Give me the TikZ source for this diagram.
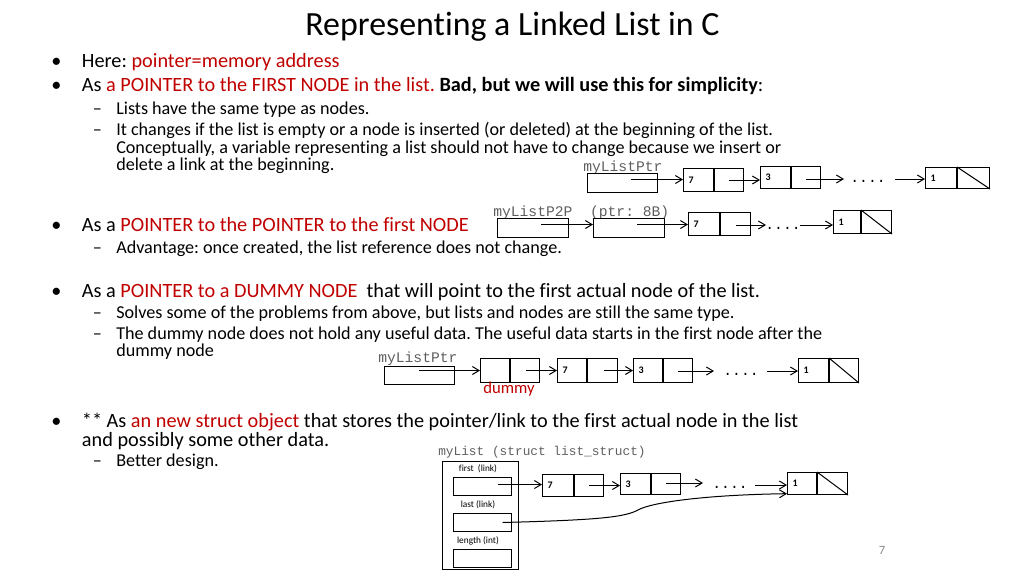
\documentclass[tikz,border=0pt]{standalone}
\usepackage{fontspec}
\setmainfont{Carlito}[Ligatures={NoCommon}]
\newfontfamily\monofont{Liberation Mono}
\usetikzlibrary{arrows.meta}
\definecolor{myred}{RGB}{192,0,0}
\definecolor{labgray}{RGB}{95,95,95}
\definecolor{pgnum}{RGB}{137,137,137}
\newcommand{\LLnode}[7]{%
  \node[box={#4}{#6}] (#1a) at (#2,#3) {};
  \node[box={#5}{#6}] (#1b) at (#1a.north east) {};
  \node[numtxt] (#1t) at ([xshift=4pt]#1a.west) {#7};
}
\newcommand{\Bline}[3]{%
  \node[btxt] (#1d) at (51,#2) {\textbullet};
  \node[btxt] (#1) at (81.7,#2) {#3};
}
\newcommand{\Sline}[3]{%
  \node[stxt] (#1d) at (92.7,#2) {–};
  \node[stxt] (#1) at (116,#2) {#3};
}
\begin{document}
\frenchspacing
\begin{tikzpicture}[x=0.75pt,y=-0.75pt,
  cell/.style={draw, line width=0.75pt, inner sep=0pt, anchor=north west},
  box/.style 2 args={cell, minimum width=#1*0.75pt, minimum height=#2*0.75pt},
  ptr/.style={-{Straight Barb[length=5pt,width=6pt]}, line width=0.75pt},
  btxt/.style={anchor=base west, inner sep=0pt, font=\fontsize{15.2}{18}\selectfont},
  stxt/.style={anchor=base west, inner sep=0pt, font=\fontsize{13.6}{16}\selectfont},
  numtxt/.style={anchor=west, inner sep=0pt, font=\fontsize{7.5}{9}\selectfont\bfseries},
  mlab/.style={anchor=base west, inner sep=0pt, text=labgray, font=\monofont\fontsize{11}{13}\selectfont},
  dots/.style={inner sep=0pt, font=\monofont\fontsize{11}{13}\selectfont},
  small/.style={inner sep=0pt, font=\fontsize{7}{8}\selectfont}]
\useasboundingbox (0,0) rectangle (1024,576);

% title
\node[anchor=base, inner sep=0pt, font=\fontsize{25.4}{30}\selectfont] (title) at (512.5,35.5) {Representing a Linked List in C};

% text
\Bline{b1}{67.7}{Here: \textcolor{myred}{pointer=memory address}}
\Bline{b2}{91.5}{As \textcolor{myred}{a POINTER to the FIRST NODE in the list.} \textbf{Bad, but we will use this for simplicity}:}
\Sline{s1}{114.3}{Lists have the same type as nodes.}
\Sline{s2}{135.3}{It changes if the list is empty or a node is inserted (or deleted) at the beginning of the list.}
\node[stxt] (s2b) at (116,153.3) {Conceptually, a variable representing a list should not have to change because we insert or};
\node[stxt] (s2c) at (116,170.5) {delete a link at the beginning.};
\Bline{b3}{231.5}{As a \textcolor{myred}{POINTER to the POINTER to the first NODE}}
\Sline{s3}{253.5}{Advantage: once created, the list reference does not change.}
\Bline{b4}{297.5}{As a \textcolor{myred}{POINTER to a DUMMY NODE}\ \ that will point to the first actual node of the list.}
\Sline{s4}{318.3}{Solves some of the problems from above, but lists and nodes are still the same type.}
\Sline{s5}{339.3}{The dummy node does not hold any useful data. The useful data starts in the first node after the}
\node[stxt] (s5b) at (116,356) {dummy node};
\Bline{b5}{427.5}{** As \textcolor{myred}{an new struct object} that stores the pointer/link to the first actual node in the list}
\node[btxt] (b5b) at (81.7,446.5) {and possibly some other data.};
\Sline{s6}{466.5}{Better design.}

% page number
\node[inner sep=0pt, text=pgnum, font=\fontsize{9.5}{11}\selectfont] (pg) at (882,550) {7};

% ---------- diagram 1
\node[mlab] (lab1) at (583,171) {myListPtr};
\node[box={70}{19}] (p1) at (587,173) {};
\LLnode{na}{683}{168}{30}{29}{23}{7}
\LLnode{nb}{760}{166}{30}{29}{22}{3}
\LLnode{nc}{925}{167}{31}{32}{21}{1}
\draw[line width=0.75pt] (ncb.north west) -- (ncb.south east);
\draw[ptr] ([shift={(8,-3.5)}]p1.center) coordinate (t1) -- (t1 -| naa.west);
\draw[ptr] (nab.center) coordinate (t2) -- (t2 -| nba.west);
\coordinate (e1) at (844,179);
\coordinate (f1) at (895,179);
\draw[ptr] (nbb.center |- e1) -- (e1);
\node[dots, anchor=base] (d1) at (868,182) {....};
\draw[ptr] (f1) -- (f1 -| nca.west);

% ---------- diagram 2
\node[mlab] (lab2) at (493,216.7) {myListP2P\ \ (ptr: 8B)};
\node[box={71}{19}] (q1) at (497,218) {};
\node[box={71}{19}] (q2) at (593,218) {};
\LLnode{ma}{688}{212}{31}{30}{23}{7}
\LLnode{mb}{833}{210}{27}{30}{23}{1}
\draw[line width=0.75pt] (mbb.north west) -- (mbb.south east);
\draw[ptr] ([shift={(8,-3.5)}]q1.center) coordinate (t3) -- (t3 -| q2.west);
\draw[ptr] ([shift={(8,-3.5)}]q2.center) coordinate (t4) -- (t4 -| maa.west);
\coordinate (e2) at (766,225);
\coordinate (f2) at (800,225);
\draw[ptr] (mab.center |- e2) -- (e2);
\node[dots, anchor=base] (d2) at (783,229) {....};
\draw[ptr] (f2) -- (f2 -| mba.west);

% ---------- diagram 3
\node[mlab] (lab3) at (378,362) {myListPtr};
\node[box={70}{18}] (r1) at (384,366) {};
\node[box={29}{24}] (dma) at (480,358) {};
\node[box={29}{24}] (dmb) at (dma.north east) {};
\node[inner sep=0pt, anchor=base, text=myred, font=\fontsize{12.5}{14}\selectfont] (dml) at (509,393) {dummy};
\LLnode{ka}{557}{358}{29}{30}{24}{7}
\LLnode{kb}{633}{358}{29}{29}{24}{3}
\LLnode{kc}{798}{358}{30}{29}{24}{1}
\draw[line width=0.75pt] (kcb.north west) -- (kcb.south east);
\draw[ptr] ([xshift=-0.5pt]r1.center |- dma.west) -- (dma.west);
\draw[ptr] ([xshift=1pt]dmb.center) coordinate (t5) -- (t5 -| kaa.west);
\draw[ptr] ([xshift=1pt]kab.center) coordinate (t6) -- (t6 -| kba.west);
\coordinate (e3) at (714,371);
\coordinate (f3) at (767,371);
\draw[ptr] (kbb.center |- e3) -- (e3);
\node[dots, anchor=base] (d3) at (741,375) {....};
\draw[ptr] (f3) -- (f3 -| kca.west);

% ---------- diagram 4
\node[mlab, font=\monofont\fontsize{9.6}{11}\selectfont] (lab4) at (438,455) {myList (struct list\_struct)};
\node[box={76}{108}] (st) at (442,461) {};
\node[small] (fl) at (478,469) {first\ \ (link)};
\node[box={58}{18}] (fb) at (453,477) {};
\node[small] (ll) at (478,505) {last (link)};
\node[box={58}{18}] (lb) at (453,513) {};
\node[small] (nl) at (478,541) {length (int)};
\node[box={58}{18}] (lnb) at (453,549) {};
\LLnode{ja}{542}{474}{31}{29}{22}{7}
\LLnode{jb}{620}{473}{30}{29}{21}{3}
\LLnode{jc}{787}{472}{29}{30}{22}{1}
\draw[line width=0.75pt] (jcb.north west) -- (jcb.south east);
\draw[ptr] ([shift={(15,-2)}]fb.center) coordinate (t7) -- (t7 -| jaa.west);
\draw[ptr] (jab.center) coordinate (t8) -- (t8 -| jba.west);
\coordinate (e4) at (703,483);
\coordinate (f4) at (755,485);
\draw[ptr] (jbb.center |- e4) -- (e4);
\node[dots, anchor=base] (d4) at (730,488) {....};
\draw[ptr] (f4) -- (f4 -| jca.west);
\draw[ptr] ([xshift=15pt]lb.center) .. controls (600,520) and (625,517) .. (638,510)
  .. controls (650,503) and (700,495) .. ([yshift=1pt]jca.south west);
\end{tikzpicture}
\end{document}
